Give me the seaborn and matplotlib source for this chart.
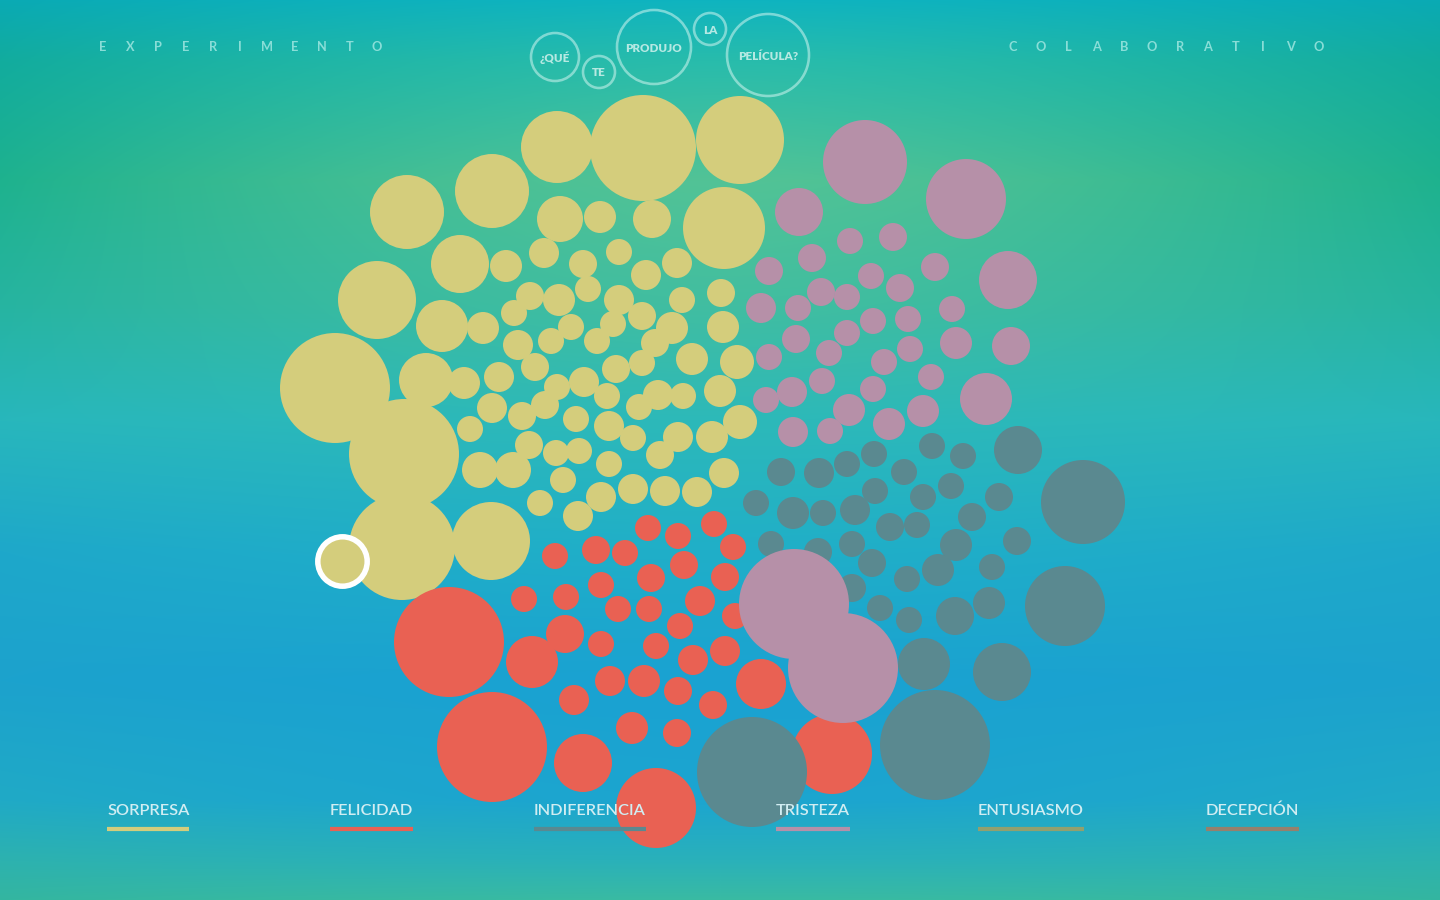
import numpy as np
import pandas as pd
import matplotlib
matplotlib.use("Agg")
import matplotlib.pyplot as plt
import seaborn as sns

# ---------------- data (pixel space) ----------------
categories = ["SORPRESA", "FELICIDAD", "INDIFERENCIA", "TRISTEZA", "ENTUSIASMO", "DECEPCIÓN"]

sorpresa_x = [407, 492, 460, 506, 377, 442, 483, 514, 530, 335, 557, 643, 740, 560, 600, 652, 724, 544, 619, 583,
              646, 677, 559, 588, 619, 642, 682, 721, 571, 613, 672, 723, 518, 551, 597, 655, 535, 692, 737, 616,
              642, 557, 584, 607, 658, 683, 720, 545, 492, 639, 522, 576, 609, 633, 678, 712, 740, 529, 556, 579,
              660, 609, 513, 563, 724, 633, 601, 665, 697, 540, 578, 426, 464, 499, 404, 470, 480, 402, 491]
sorpresa_y = [212, 191, 264, 266, 300, 326, 328, 313, 296, 388, 147, 148, 140, 219, 217, 219, 228, 253, 252, 264,
              275, 263, 300, 289, 300, 316, 300, 293, 327, 324, 328, 327, 345, 341, 341, 343, 367, 359, 362, 369,
              363, 387, 382, 396, 395, 396, 391, 405, 408, 407, 416, 419, 426, 438, 437, 437, 422, 445, 453, 451,
              455, 464, 470, 480, 473, 489, 497, 491, 492, 503, 516, 380, 383, 377, 454, 429, 470, 547, 541]
sorpresa_r = [37, 37, 29, 16, 39, 26, 16, 13, 14, 55, 36, 53, 44, 23, 16, 19, 41, 15, 13, 14,
              15, 15, 16, 13, 15, 14, 13, 14, 13, 13, 16, 16, 15, 13, 13, 14, 14, 16, 17, 14,
              13, 13, 15, 13, 15, 13, 16, 14, 15, 13, 14, 13, 15, 13, 15, 16, 17, 14, 13, 13,
              14, 13, 18, 13, 15, 15, 15, 15, 15, 13, 15, 27, 16, 15, 55, 13, 18, 53, 39]

felicidad_x = [648, 714, 678, 733, 555, 596, 625, 684, 651, 725, 601, 566, 524, 700, 618, 649, 735, 680, 565, 601,
               656, 693, 725, 449, 532, 610, 644, 678, 761, 574, 713, 632, 677, 492, 583, 656, 832]
felicidad_y = [528, 524, 536, 547, 556, 550, 553, 565, 578, 577, 585, 597, 599, 601, 609, 609, 616, 626, 634, 644,
               646, 660, 651, 642, 662, 681, 681, 691, 684, 700, 705, 728, 733, 747, 763, 808, 754]
felicidad_r = [13, 13, 13, 13, 13, 14, 13, 14, 14, 14, 13, 13, 13, 15, 13, 13, 13, 13, 19, 13,
               13, 15, 15, 55, 26, 15, 16, 14, 25, 15, 14, 16, 14, 55, 29, 40, 40]

indiferencia_x = [1018, 1083, 932, 963, 781, 819, 847, 874, 904, 951, 875, 923, 999, 756, 793, 823, 855, 890, 917, 972,
                  771, 818, 852, 956, 1017, 872, 938, 907, 992, 852, 1065, 880, 909, 955, 989, 924, 1002, 935, 752]
indiferencia_y = [450, 502, 446, 456, 472, 473, 464, 454, 472, 486, 491, 497, 497, 503, 513, 513, 510, 527, 525, 517,
                  544, 552, 544, 545, 541, 563, 570, 579, 567, 588, 606, 608, 620, 616, 603, 664, 672, 745, 772]
indiferencia_r = [24, 42, 13, 13, 14, 15, 13, 13, 13, 13, 13, 13, 14, 13, 16, 13, 15, 14, 13, 14,
                  13, 14, 13, 16, 14, 14, 16, 13, 13, 14, 40, 13, 13, 19, 16, 26, 29, 55, 55]

tristeza_x = [865, 966, 799, 850, 893, 812, 769, 871, 900, 935, 1008, 821, 847, 761, 798, 873, 908, 952, 847, 796,
              769, 829, 884, 910, 956, 1011, 822, 873, 931, 766, 792, 849, 923, 986, 793, 830, 889, 794, 843]
tristeza_y = [162, 199, 212, 241, 237, 258, 271, 276, 288, 267, 280, 292, 297, 308, 308, 321, 319, 309, 333, 339,
              357, 353, 362, 349, 343, 346, 381, 389, 377, 400, 392, 410, 411, 399, 432, 431, 424, 604, 668]
tristeza_r = [42, 40, 24, 13, 14, 14, 14, 13, 14, 14, 29, 14, 13, 15, 13, 13, 13, 13, 13, 14,
              13, 13, 13, 13, 16, 19, 13, 13, 13, 13, 15, 16, 16, 26, 15, 13, 16, 55, 55]

highlight_x = [342]
highlight_y = [561]
highlight_r = [24.7]

question_words = ["¿QUÉ", "TE", "PRODUJO", "LA", "PELÍCULA?"]
question_x = [555, 599, 654, 710, 768]
question_y = [57, 72, 47, 29, 55]
question_r = [24, 16, 37, 16, 41]

header_left = "EXPERIMENTO"
header_right = "COLABORATIVO"

# ---------------- styles ----------------
palette = {
    "SORPRESA": "#D4CD7C",
    "FELICIDAD": "#E96153",
    "INDIFERENCIA": "#5A8990",
    "TRISTEZA": "#B690A8",
    "ENTUSIASMO": "#92A06E",
    "DECEPCIÓN": "#96806C",
}
legend_x = [107, 330, 534, 776, 978, 1206]

W, H, DPI = 1440, 900, 100
PT = 72.0 / DPI  # points per pixel

sns.set_theme(style="white")
plt.rcParams["font.family"] = ["Lato", "DejaVu Sans"]

fig = plt.figure(figsize=(W / DPI, H / DPI), dpi=DPI)
ax = fig.add_axes([0, 0, 1, 1])
ax.set_xlim(0, W)
ax.set_ylim(H, 0)
ax.set_axis_off()

# ---------------- background gradient ----------------
ys = np.array([0, 60, 180, 300, 420, 550, 680, 800, 860, 900], float)
center_cols = np.array([(15, 180, 192), (40, 188, 172), (82, 195, 150), (66, 190, 160), (45, 185, 185),
                        (32, 175, 200), (26, 162, 210), (28, 165, 208), (42, 177, 186), (58, 187, 162)], float)
edge_cols = np.array([(10, 170, 180), (18, 172, 158), (30, 178, 142), (38, 180, 160), (40, 183, 188),
                      (30, 168, 202), (28, 162, 205), (32, 170, 198), (45, 178, 175), (52, 182, 160)], float)
gy = np.arange(H)
gx = np.arange(W)
cen = np.stack([np.interp(gy, ys, center_cols[:, k]) for k in range(3)], axis=1)
edg = np.stack([np.interp(gy, ys, edge_cols[:, k]) for k in range(3)], axis=1)
wgt = (np.abs(gx - 720) / 720.0) ** 1.6
img = cen[:, None, :] * (1 - wgt[None, :, None]) + edg[:, None, :] * wgt[None, :, None]
ax.imshow(np.clip(img / 255.0, 0, 1), extent=(0, W, H, 0), aspect="auto", zorder=0, interpolation="bilinear")

# ---------------- bubbles ----------------
frames = []
for name, xs, yv, rs in [("SORPRESA", sorpresa_x, sorpresa_y, sorpresa_r),
                         ("FELICIDAD", felicidad_x, felicidad_y, felicidad_r),
                         ("INDIFERENCIA", indiferencia_x, indiferencia_y, indiferencia_r),
                         ("TRISTEZA", tristeza_x, tristeza_y, tristeza_r)]:
    frames.append(pd.DataFrame({"x": xs, "y": yv, "r": rs, "emotion": name}))
df = pd.concat(frames, ignore_index=True)
sizes = (2 * df["r"].to_numpy() * PT) ** 2
sns.scatterplot(data=df, x="x", y="y", hue="emotion", palette=palette, s=sizes,
                linewidth=0, legend=False, ax=ax, zorder=2, alpha=1)

hl = pd.DataFrame({"x": highlight_x, "y": highlight_y, "r": highlight_r})
sns.scatterplot(data=hl, x="x", y="y", s=(2 * hl["r"].to_numpy() * PT) ** 2, color=palette["SORPRESA"],
                edgecolor="white", linewidth=5.5 * PT, legend=False, ax=ax, zorder=3)

# ---------------- question bubbles ----------------
qd = pd.DataFrame({"x": question_x, "y": question_y, "r": question_r, "w": question_words})
sns.scatterplot(data=qd, x="x", y="y", s=(2 * qd["r"].to_numpy() * PT) ** 2, facecolor="none",
                edgecolor=(0.82, 0.96, 0.94, 0.55), linewidth=2.6 * PT, legend=False, ax=ax, zorder=3)
for _, row in qd.iterrows():
    ax.text(row.x, row.y + 1, row.w, ha="center", va="center", fontsize=8.4, fontweight="heavy",
            color=(0.86, 0.96, 0.94, 0.8), zorder=4)

# ---------------- header ----------------
hcol = (0.62, 0.90, 0.88, 0.85)
for i, ch in enumerate(header_left):
    ax.text(103 + i * 27.4, 47, ch, ha="center", va="center", fontsize=9.2, color=hcol,
            fontweight="bold", zorder=4)
for i, ch in enumerate(header_right):
    ax.text(1013 + i * 27.8, 47, ch, ha="center", va="center", fontsize=9.2, color=hcol,
            fontweight="bold", zorder=4)

# ---------------- legend ----------------
fig.canvas.draw()
renderer = fig.canvas.get_renderer()
for cat, lx in zip(categories, legend_x):
    t = ax.text(lx, 811, cat, ha="left", va="center", fontsize=11.8, color=(0.82, 0.93, 0.95),
                fontweight="semibold", zorder=6)
    bb = t.get_window_extent(renderer=renderer)
    wpx = bb.width
    ax.plot([lx, lx + wpx], [828.5, 828.5], color=palette[cat], linewidth=4.2 * PT,
            solid_capstyle="butt", zorder=6)

fig.savefig("out.png", dpi=DPI)
